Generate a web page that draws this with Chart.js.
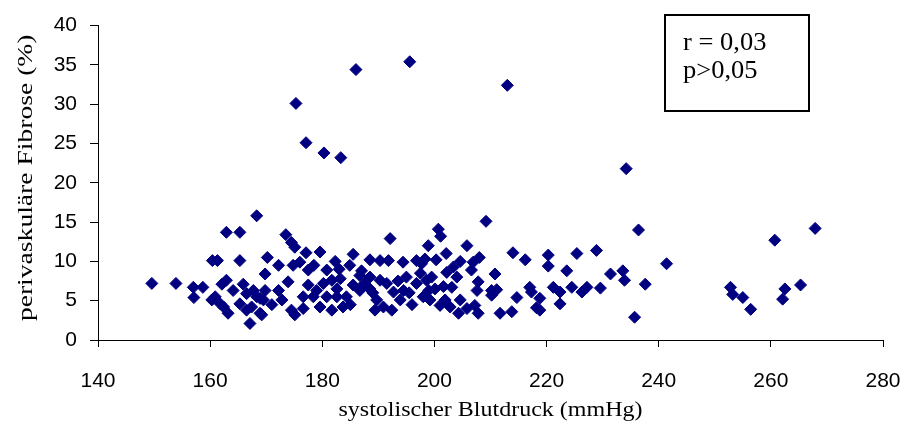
<!DOCTYPE html>
<html>
<head>
<meta charset="utf-8">
<script src="https://cdn.jsdelivr.net/npm/chart.js@4"></script>
<style>
  html, body { margin: 0; padding: 0; background: #fff; }
  #wrap { width: 905px; height: 432px; }
</style>
</head>
<body>
<div id="wrap"><canvas id="scatter-chart" width="905" height="432"></canvas></div>
<script>
// systolischer Blutdruck (mmHg) vs perivaskuläre Fibrose (%)
const bloodPressure = [
    175.3, 186.0, 195.6, 213.0, 177.1, 180.3, 183.3, 234.2,
    168.3, 209.2, 267.9, 236.4, 241.4, 260.7, 228.9,
    231.4, 233.6, 233.9, 237.6, 227.2, 226.3, 229.6, 235.7,
    252.8, 253.2, 255.0, 256.4, 262.5, 262.1, 265.3,
    200.7, 201.1, 198.9, 205.8, 202.1, 214.0, 216.2, 220.3, 225.4,
    220.3, 223.6, 200.3, 208.0, 206.9, 204.6, 206.6, 203.4, 202.2, 204.0, 210.8,
    197.7, 198.6, 200.1, 201.6, 203.1, 207.8, 207.6, 210.2, 211.1, 210.2,
    214.7, 217.0, 217.3, 218.8, 221.2, 222.4, 224.5,
    222.4, 218.2, 218.8, 211.7, 213.8, 204.6, 202.8, 204.3, 205.8, 207.8,
    207.2, 201.0, 201.9, 199.2,
    173.5, 174.5, 175.1, 177.1, 179.6, 192.1,
    170.2, 172.2, 169.8, 174.8, 176.0, 177.5, 182.3, 185.5, 184.9, 187.0,
    188.5, 190.3, 191.8, 194.4, 196.8, 198.3, 180.8, 181.7, 183.2, 180.2,
    179.0, 173.9, 172.2, 169.8, 168.9, 172.8, 169.2, 174.5, 175.1, 176.6,
    178.4, 179.6, 181.7, 183.7, 184.3, 186.7, 188.5, 189.4, 190.9, 192.4,
    189.7, 191.5, 192.7, 194.5, 195.0, 196.8, 198.0, 193.9, 180.8, 182.6,
    176.6, 186.7, 188.5, 190.3, 182.6,
    162.9, 165.3, 160.4, 161.3, 165.3,
    149.6, 153.9, 157.0, 158.7, 157.1, 162.1, 162.9, 160.3, 160.9, 161.8,
    162.4, 163.2, 164.1, 165.9, 165.3, 166.5, 167.7, 168.3, 167.4, 168.9,
    167.1, 169.5, 166.5,
    185.5, 187.5, 189.0, 193.5, 195.5, 196.0, 197.5, 199.5, 199.0, 185.0,
    171.0, 177.5, 178.5, 183.0
];
const fibrosis = [
    30.1, 34.4, 35.4, 32.4, 25.1, 23.8, 23.2, 21.8,
    15.8, 15.1, 14.2, 14.0, 9.7, 12.7, 11.4,
    8.4, 8.8, 7.6, 7.1, 6.7, 6.1, 6.6, 2.9,
    6.7, 5.8, 5.4, 3.9, 6.5, 5.2, 7.0,
    14.1, 13.2, 12.0, 12.0, 11.0, 11.1, 10.2, 10.8, 11.0,
    9.4, 8.8, 10.2, 10.5, 9.9, 10.0, 8.9, 9.3, 8.6, 8.0, 8.4,
    9.7, 7.6, 6.5, 6.8, 6.7, 7.4, 6.3, 6.3, 6.4, 5.7,
    5.4, 6.7, 6.1, 5.3, 6.7, 6.1, 6.7,
    4.6, 4.1, 3.8, 3.4, 3.6, 5.1, 4.2, 3.4, 4.0, 3.4,
    4.4, 4.4, 5.1, 5.1,
    13.4, 12.4, 11.8, 11.1, 11.2, 12.9,
    10.5, 9.5, 8.4, 9.5, 9.9, 8.9, 10.0, 10.9, 9.5, 8.8,
    10.2, 10.1, 10.1, 9.9, 10.1, 10.3, 8.9, 7.6, 7.8, 7.2,
    6.3, 7.4, 6.3, 6.3, 5.3, 5.1, 3.2, 3.8, 3.2, 4.0,
    5.5, 4.2, 3.8, 4.2, 5.5, 6.3, 6.5, 3.8, 4.2, 3.8,
    5.1, 7.2, 6.1, 6.3, 8.0, 7.2, 5.5, 5.1, 5.5, 5.5,
    5.5, 8.2, 8.0, 7.6, 6.5,
    13.7, 13.7, 10.1, 10.1, 10.1,
    7.2, 7.2, 6.7, 6.7, 5.4, 7.1, 7.6, 5.1, 5.5, 4.6,
    4.2, 3.4, 6.3, 7.1, 4.6, 5.9, 6.3, 5.5, 4.2, 3.4,
    2.1, 5.1, 3.8,
    7.0, 7.2, 6.0, 7.5, 6.0, 4.5, 8.5, 8.0, 6.3, 4.5,
    4.5, 7.0, 9.5, 9.0
];
const xTicks = [140, 160, 180, 200, 220, 240, 260, 280];
const yTicks = [0, 5, 10, 15, 20, 25, 30, 35, 40];
const xTitle = 'systolischer Blutdruck (mmHg)';
const yTitle = 'perivaskuläre Fibrose (%)';
const statLines = ['r = 0,03', 'p>0,05'];

const points = bloodPressure.map((x, i) => ({ x: x, y: fibrosis[i] }));

// write text stretched sideways, like the original export
function stretchedText(ctx, text, x, y, angle, stretch) {
    ctx.save();
    ctx.translate(x, y);
    ctx.rotate(angle);
    ctx.scale(stretch, 1);
    ctx.fillText(text, 0, 0);
    ctx.restore();
}

// axis titles and the correlation box
const extras = {
    id: 'extras',
    afterDraw(chart) {
        const ctx = chart.ctx;
        const area = chart.chartArea;
        ctx.save();
        ctx.fillStyle = '#000';
        ctx.font = '20px "Liberation Serif"';
        ctx.textAlign = 'center';
        ctx.textBaseline = 'middle';
        stretchedText(ctx, xTitle, (area.left + area.right) / 2, 411, 0, 1.2);
        stretchedText(ctx, yTitle, 27, (area.top + area.bottom) / 2 - 5, -Math.PI / 2, 1.38);

        ctx.strokeStyle = '#000';
        ctx.lineWidth = 2;
        ctx.strokeRect(665, 15, 144, 96);
        ctx.font = '25px "Liberation Serif"';
        ctx.textAlign = 'left';
        ctx.textBaseline = 'alphabetic';
        stretchedText(ctx, statLines[0], 683, 50, 0, 1.06);
        stretchedText(ctx, statLines[1], 683, 78, 0, 1.06);
        ctx.restore();
    }
};

const ctx = document.getElementById('scatter-chart').getContext('2d');
new Chart(ctx, {
    type: 'scatter',
    data: {
        datasets: [{
            data: points,
            pointStyle: 'rectRot',
            pointRadius: 6,
            pointHoverRadius: 6,
            backgroundColor: '#000080',
            borderColor: '#000080',
            borderWidth: 1
        }]
    },
    options: {
        responsive: false,
        animation: false,
        layout: { padding: { top: 24, right: 22, bottom: 0, left: 0 } },
        plugins: {
            legend: { display: false },
            tooltip: { enabled: false }
        },
        scales: {
            x: {
                type: 'linear',
                min: 140,
                max: 280,
                afterBuildTicks: (scale) => { scale.ticks = xTicks.map(v => ({ value: v })); },
                afterFit: (scale) => {
                    scale.height = 92;
                    // the big label padding should not squeeze the plot sideways
                    scale.paddingLeft = 0;
                    scale.paddingRight = 0;
                },
                grid: { drawOnChartArea: false, drawTicks: true, tickLength: 7, color: '#000', lineWidth: 1 },
                border: { color: '#000', width: 1 },
                ticks: {
                    color: '#000',
                    padding: 22,
                    maxRotation: 0,
                    font: { family: '"Liberation Sans", Arial', size: 21 }
                },
                title: { display: false }
            },
            y: {
                type: 'linear',
                min: 0,
                max: 40,
                afterBuildTicks: (scale) => { scale.ticks = yTicks.map(v => ({ value: v })); },
                afterFit: (scale) => { scale.width = 98; },
                grid: { drawOnChartArea: false, drawTicks: true, tickLength: 8, color: '#000', lineWidth: 1 },
                border: { color: '#000', width: 1 },
                ticks: {
                    color: '#000',
                    padding: 13,
                    font: { family: '"Liberation Sans", Arial', size: 21 }
                },
                title: { display: false }
            }
        }
    },
    plugins: [extras]
});
</script>
</body>
</html>
